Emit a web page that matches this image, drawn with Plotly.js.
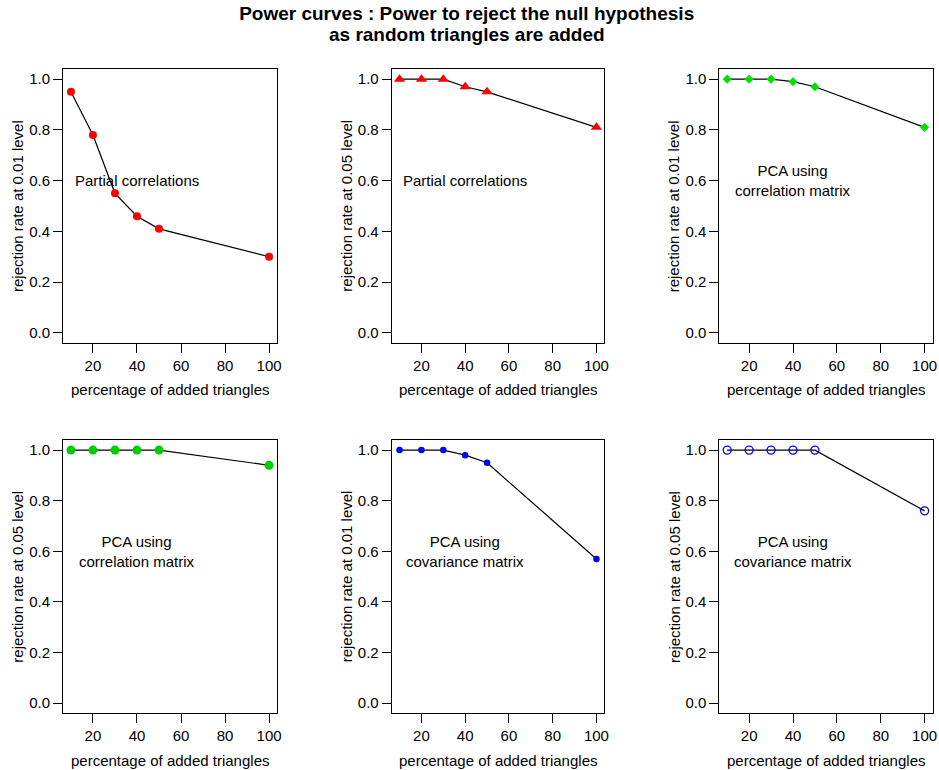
<!DOCTYPE html>
<html>
<head>
<meta charset="utf-8">
<script src="https://cdn.plot.ly/plotly-3.0.1.min.js"></script>
<style>html,body{margin:0;padding:0;background:#fff;}#chart{width:939px;height:770px;}</style>
</head>
<body>
<div id="chart"></div>
<script>
// ---- data ----
const pctAdded = [10, 20, 30, 40, 50, 100];
const partialCorr01 = [0.95, 0.78, 0.55, 0.46, 0.41, 0.30];
const partialCorr05 = [1.00, 1.00, 1.00, 0.97, 0.95, 0.81];
const pcaCorr01 = [1.00, 1.00, 1.00, 0.99, 0.97, 0.81];
const pcaCorr05 = [1.00, 1.00, 1.00, 1.00, 1.00, 0.94];
const pcaCov01 = [1.00, 1.00, 1.00, 0.98, 0.95, 0.57];
const pcaCov05 = [1.00, 1.00, 1.00, 1.00, 1.00, 0.76];
const panelLabels = ["Partial correlations", "Partial correlations",
  "PCA using<br>correlation matrix", "PCA using<br>correlation matrix",
  "PCA using<br>covariance matrix", "PCA using<br>covariance matrix"];
const yTitles = ["rejection rate at 0.01 level", "rejection rate at 0.05 level",
  "rejection rate at 0.01 level", "rejection rate at 0.05 level",
  "rejection rate at 0.01 level", "rejection rate at 0.05 level"];
const xTitle = "percentage of added triangles";
const xTicks = [20, 40, 60, 80, 100];
const yTicks = [0, 0.2, 0.4, 0.6, 0.8, 1.0];
const labelX = 40, labelY = 0.6;
const mainTitleLine1 = "Power curves : Power to reject the null hypothesis";
const mainTitleLine2 = "as random triangles are added";

// ---- styles ----
const series = [partialCorr01, partialCorr05, pcaCorr01, pcaCorr05, pcaCov01, pcaCov05];
const markers = [
  {symbol: "circle", size: 8, color: "#FF0000"},
  {symbol: "triangle-up", size: 10, color: "#FF0000"},
  {symbol: "diamond", size: 7, color: "#00E000"},
  {symbol: "circle", size: 9, color: "#00CD00"},
  {symbol: "circle", size: 6.5, color: "#0000FF"},
  {symbol: "circle-open", size: 8, color: "#0000FF", line: {width: 1.3, color: "#0000FF"}}
];

const W = 939, H = 770;
const cols = [[63, 277], [391.7, 604.3], [719.3, 932.5]];
const rows = [[69, 343], [440, 713.3]];
const FONT = "Liberation Sans, Arial, Helvetica, sans-serif";
const titleFont = {family: FONT, size: 19, color: "#000", weight: "bold"};

const data = [];
const layout = {
  width: W, height: H,
  margin: {l: 0, r: 0, t: 0, b: 0},
  paper_bgcolor: "#fff", plot_bgcolor: "#fff",
  showlegend: false,
  font: {family: FONT, size: 15, color: "#000"},
  title: {
    text: mainTitleLine1,
    font: titleFont,
    x: 0.497, xanchor: "center",
    yref: "container", y: 1 - 13 / H, yanchor: "middle"
  },
  annotations: [{
    text: mainTitleLine2, xref: "paper", yref: "paper",
    x: 0.497, y: 1 - 34 / H, xanchor: "center", yanchor: "middle",
    showarrow: false, font: titleFont
  }]
};

const panelPos = [[0,0],[0,1],[0,2],[1,0],[1,1],[1,2]];

for (let i = 0; i < 6; i++) {
  const [r, c] = panelPos[i];
  const xs = i === 0 ? "" : String(i + 1);
  const xName = "xaxis" + xs, yName = "yaxis" + xs;
  const cx = cols[c], ry = rows[r];
  data.push({
    type: "scatter", mode: "lines+markers",
    x: pctAdded, y: series[i],
    xaxis: "x" + xs, yaxis: "y" + xs,
    line: {color: "#000", width: 1.2},
    marker: markers[i],
    hoverinfo: "x+y"
  });
  layout[xName] = {
    domain: [cx[0] / W, cx[1] / W],
    anchor: "y" + xs,
    range: [6.4, 103.6],
    tickvals: xTicks,
    ticks: "outside", ticklen: 9, tickwidth: 1, tickcolor: "#000",
    showline: true, mirror: true, linecolor: "#000", linewidth: 1,
    showgrid: false, zeroline: false,
    tickfont: {family: FONT, size: 15, color: "#000"},
    fixedrange: true
  };
  layout[yName] = {
    domain: [1 - ry[1] / H, 1 - ry[0] / H],
    anchor: "x" + xs,
    range: [-0.04, 1.04],
    tickvals: yTicks, tickformat: ".1f",
    ticks: "outside", ticklen: 9, tickwidth: 1, tickcolor: "#000",
    showline: true, mirror: true, linecolor: "#000", linewidth: 1,
    showgrid: false, zeroline: false,
    tickfont: {family: FONT, size: 15, color: "#000"},
    fixedrange: true
  };
  layout.annotations.push({
    text: xTitle, xref: "paper", yref: "paper",
    x: (cx[0] + cx[1]) / 2 / W, y: 1 - (ry[1] + 47) / H,
    xanchor: "center", yanchor: "middle", showarrow: false,
    font: {family: FONT, size: 15, color: "#000"}
  });
  layout.annotations.push({
    text: yTitles[i], xref: "paper", yref: "paper",
    x: (cx[0] - 45) / W, y: 1 - (ry[0] + ry[1]) / 2 / H,
    xanchor: "center", yanchor: "middle", showarrow: false, textangle: -90,
    font: {family: FONT, size: 15, color: "#000"}
  });
  layout.annotations.push({
    text: panelLabels[i], xref: "x" + xs, yref: "y" + xs,
    x: labelX, y: labelY, xanchor: "center", yanchor: "middle",
    showarrow: false, align: "center",
    font: {family: FONT, size: 15, color: "#000"}
  });
}

Plotly.newPlot("chart", data, layout, {displayModeBar: false, staticPlot: true});
</script>
</body>
</html>
